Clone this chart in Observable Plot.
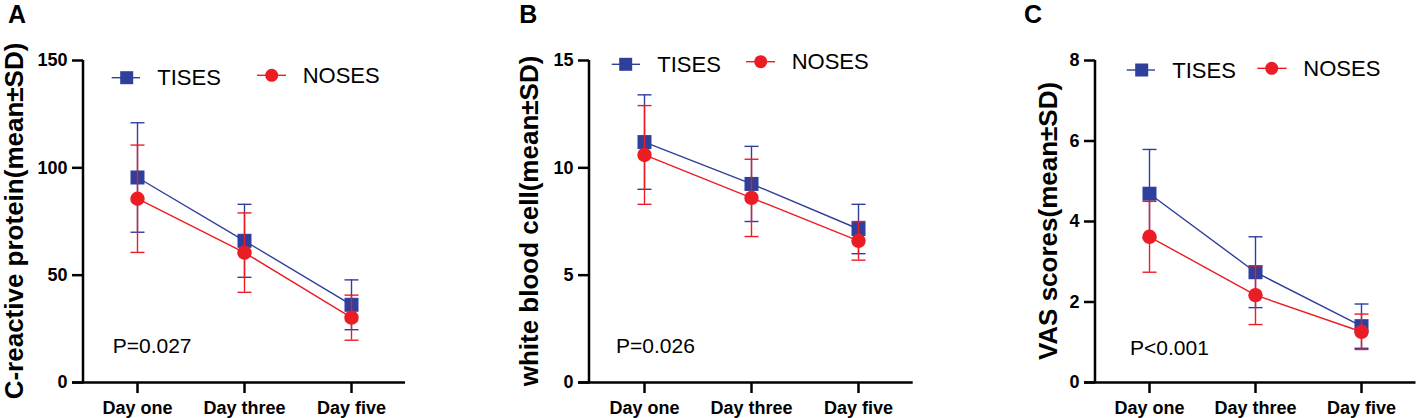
<!DOCTYPE html>
<html>
<head>
<meta charset="utf-8">
<script src="https://cdn.jsdelivr.net/npm/d3@7"></script>
<script src="https://cdn.jsdelivr.net/npm/@observablehq/plot@0.6"></script>
<style>
  html, body { margin: 0; padding: 0; background: #fff; }
  #fig { position: relative; width: 1417px; height: 418px; overflow: hidden; font-family: "Liberation Sans", Arial, sans-serif; }
  .panel { position: absolute; top: 0; }
  .panel svg { display: block; }
</style>
</head>
<body>
<div id="fig"></div>
<script>
// ---- data ----
const categories = ["Day one", "Day three", "Day five"];
const seriesNames = ["TISES", "NOSES"];

const crpTises   = [95.5, 66.0, 36.2];
const crpTisesSD = [25.5, 17.0, 11.6];
const crpNoses   = [85.6, 60.5, 30.2];
const crpNosesSD = [25.0, 18.5, 10.5];

const wbcTises   = [11.2, 9.25, 7.15];
const wbcTisesSD = [2.2, 1.75, 1.15];
const wbcNoses   = [10.6, 8.6, 6.6];
const wbcNosesSD = [2.3, 1.8, 0.9];

const vasTises   = [4.69, 2.74, 1.40];
const vasTisesSD = [1.10, 0.88, 0.55];
const vasNoses   = [3.62, 2.17, 1.26];
const vasNosesSD = [0.88, 0.73, 0.44];

const crpTicks = [0, 50, 100, 150];
const wbcTicks = [0, 5, 10, 15];
const vasTicks = [0, 2, 4, 6, 8];

const panelLetters = ["A", "B", "C"];
const yTitles = ["C-reactive protein(mean±SD)", "white blood cell(mean±SD)", "VAS scores(mean±SD)"];
const pTexts = ["P=0.027", "P=0.026", "P<0.001"];

// ---- styling / layout ----
const BLUE = "#2f3f9c";
const RED = "#ec1c24";
const INK = "#000000";
const FONT = "'Liberation Sans', Arial, sans-serif";
const AXW = 2.5;   // axis line width
const TLEN = 11;   // tick length

const panels = [
  { left: 0,   width: 470, marginLeft: 83,  axisRight: 405,
    domain: [0, 150], ticks: crpTicks, t: crpTises, tsd: crpTisesSD, n: crpNoses, nsd: crpNosesSD,
    letterX: 8, titleX: 23, pX: 112.7, pY: 353,
    leg: [{cx: 126.7, cy: 77.7, x1: 111.7, x2: 140, tx: 157.3}, {cx: 271.7, cy: 75.3, x1: 257, x2: 286, tx: 302.7}] },
  { left: 470, width: 470, marginLeft: 119, axisRight: 442.7,
    domain: [0, 15], ticks: wbcTicks, t: wbcTises, tsd: wbcTisesSD, n: wbcNoses, nsd: wbcNosesSD,
    letterX: 49.3, titleX: 68.3, pX: 146, pY: 353,
    leg: [{cx: 155.7, cy: 64.3, x1: 141.7, x2: 170, tx: 187.3}, {cx: 290.7, cy: 61.7, x1: 276, x2: 305, tx: 321.7}] },
  { left: 940, width: 477, marginLeft: 155, axisRight: 475.5,
    domain: [0, 8], ticks: vasTicks, t: vasTises, tsd: vasTisesSD, n: vasNoses, nsd: vasNosesSD,
    letterX: 84, titleX: 116.7, pX: 190, pY: 354.5,
    leg: [{cx: 201.7, cy: 70, x1: 186.7, x2: 215, tx: 232.3}, {cx: 331.7, cy: 68.3, x1: 317.3, x2: 346.7, tx: 363.3}] }
];

// horizontal cap symbol for error bars (half-width = r)
const capSymbol = {
  draw(context, size) {
    const w = Math.sqrt(size / Math.PI);
    context.moveTo(-w, 0);
    context.lineTo(w, 0);
  }
};

function rows(means, sds, group) {
  return categories.map((c, i) => ({ day: c, mean: means[i], lo: means[i] - sds[i], hi: means[i] + sds[i], group }));
}

function seriesMarks(d, color, symbol, r) {
  const sw = 1.4;
  return [
    Plot.line(d, { x: "day", y: "mean", stroke: color, strokeWidth: sw }),
    Plot.ruleX(d, { x: "day", y1: "lo", y2: "hi", stroke: color, strokeWidth: sw }),
    Plot.dot(d, { x: "day", y: "hi", symbol: capSymbol, r: 7, stroke: color, fill: "none", strokeWidth: sw }),
    Plot.dot(d, { x: "day", y: "lo", symbol: capSymbol, r: 7, stroke: color, fill: "none", strokeWidth: sw }),
    Plot.dot(d, { x: "day", y: "mean", symbol, r, fill: color, stroke: "none" })
  ];
}

const fig = document.getElementById("fig");

panels.forEach((p, k) => {
  const tData = rows(p.t, p.tsd, seriesNames[0]);
  const nData = rows(p.n, p.nsd, seriesNames[1]);

  const chart = Plot.plot({
    width: p.width,
    height: 418,
    marginLeft: p.marginLeft,
    marginRight: p.width - p.axisRight,
    marginTop: 60,
    marginBottom: 36,
    style: { fontFamily: FONT, color: INK, background: "white", overflow: "visible" },
    x: { type: "point", domain: categories, padding: 0.5, label: null },
    y: { domain: p.domain, label: null },
    marks: [
      Plot.axisX({ tickSize: TLEN, tickPadding: 8, fontSize: 18, fontWeight: "bold", stroke: INK, strokeWidth: AXW, label: null }),
      Plot.axisY({ ticks: p.ticks, tickFormat: d3.format("d"), tickSize: TLEN, tickPadding: 5, fontSize: 18, fontWeight: "bold", stroke: INK, strokeWidth: AXW, label: null }),
      Plot.ruleY([p.domain[0]], { stroke: INK, strokeWidth: AXW, insetLeft: -TLEN }),
      ...seriesMarks(tData, BLUE, "square", 7.9),
      ...seriesMarks(nData, RED, "circle", 7.2)
    ]
  });

  const sy = chart.scale("y");
  const xa = p.marginLeft;
  const y0 = sy.apply(p.domain[0]), y1 = sy.apply(p.domain[1]);
  const svg = d3.select(chart);

  // y axis line at the frame's left edge, spanning the y scale's domain
  svg.append("line").attr("x1", xa).attr("x2", xa).attr("y1", y0 + AXW / 2).attr("y2", y1)
    .attr("stroke", INK).attr("stroke-width", AXW);

  // panel letter
  svg.append("text").attr("x", p.letterX).attr("y", 23).attr("text-anchor", "start")
    .attr("font-family", FONT).attr("font-size", 25).attr("font-weight", "bold").attr("fill", INK)
    .text(panelLetters[k]);
  // y title
  svg.append("text").attr("transform", `translate(${p.titleX},${(y0 + y1) / 2}) rotate(-90)`)
    .attr("text-anchor", "middle")
    .attr("font-family", FONT).attr("font-size", 26).attr("font-weight", "bold").attr("fill", INK)
    .text(yTitles[k]);
  // p value
  svg.append("text").attr("x", p.pX).attr("y", p.pY).attr("text-anchor", "start")
    .attr("font-family", FONT).attr("font-size", 21).attr("fill", INK)
    .text(pTexts[k]);
  // legend
  const colors = [BLUE, RED];
  p.leg.forEach((L, i) => {
    const g = svg.append("g");
    g.append("line").attr("x1", L.x1).attr("x2", L.x2).attr("y1", L.cy).attr("y2", L.cy)
      .attr("stroke", colors[i]).attr("stroke-width", 1.4);
    if (i === 0) {
      g.append("rect").attr("x", L.cx - 6.5).attr("y", L.cy - 6.5).attr("width", 13).attr("height", 13).attr("fill", colors[i]);
    } else {
      g.append("circle").attr("cx", L.cx).attr("cy", L.cy).attr("r", 6.5).attr("fill", colors[i]);
    }
    g.append("text").attr("x", L.tx).attr("y", L.cy).attr("dy", "0.35em").attr("text-anchor", "start")
      .attr("font-family", FONT).attr("font-size", 22).attr("fill", INK)
      .text(seriesNames[i]);
  });

  const div = document.createElement("div");
  div.className = "panel";
  div.style.left = p.left + "px";
  div.appendChild(chart);
  fig.appendChild(div);
});
</script>
</body>
</html>
